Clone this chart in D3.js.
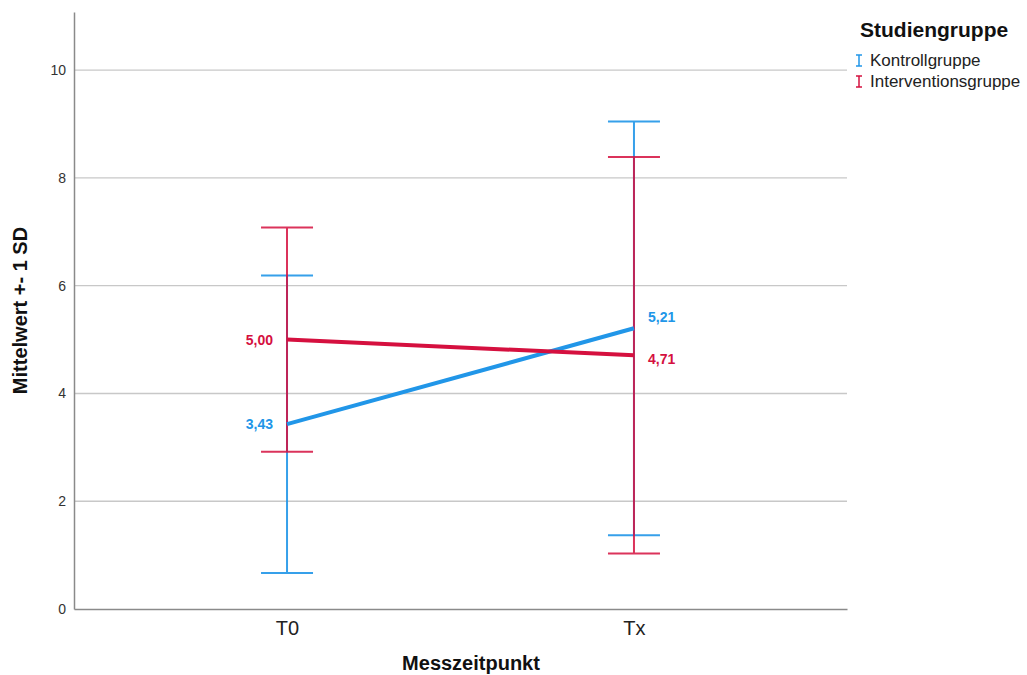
<!DOCTYPE html>
<html><head><meta charset="utf-8">
<script src="https://cdn.jsdelivr.net/npm/d3@7"></script>
<style>body{margin:0;background:#fff;font-family:"Liberation Sans",Arial,sans-serif;}</style>
</head><body><svg id="c" width="1027" height="675"></svg>
<script>
const timepoints = ["T0", "Tx"];
const groups = ["Kontrollgruppe", "Interventionsgruppe"];
const kontrollMean = [3.43, 5.21];
const kontrollSD = [2.76, 3.84];
const interventionMean = [5.00, 4.71];
const interventionSD = [2.08, 3.68];
const yTicks = [0, 2, 4, 6, 8, 10];
const colors = ["#2196e8", "#d5103f"];

const series = [
  {name: groups[0], mean: kontrollMean, sd: kontrollSD, color: colors[0]},
  {name: groups[1], mean: interventionMean, sd: interventionSD, color: colors[1]}
];

const svg = d3.select("#c");
const L = 74, R = 847, T = 12, B = 609;
const x = d3.scalePoint().domain(timepoints).range([L, R]).padding(0.614);
const y = d3.scaleLinear().domain([0, 11.08]).range([B, T]);

// gridlines
svg.append("g").selectAll("line").data(yTicks.filter(d => d > 0)).join("line")
  .attr("x1", L).attr("x2", R).attr("y1", d => y(d)).attr("y2", d => y(d))
  .attr("stroke", "#c8c8c8").attr("stroke-width", 1.3);

// axes
const yAxis = d3.axisLeft(y).tickValues(yTicks).tickSize(0).tickPadding(8).tickFormat(d3.format("d"));
const gy = svg.append("g").attr("transform", `translate(${L},0)`).call(yAxis);
gy.select(".domain").attr("stroke", "#8a8a8a").attr("stroke-width", 1.5);
gy.selectAll("text").attr("font-size", 14).attr("fill", "#333").attr("font-family", "Liberation Sans, Arial, sans-serif");

const xAxis = d3.axisBottom(x).tickSize(0).tickPadding(12);
const gx = svg.append("g").attr("transform", `translate(0,${B})`).call(xAxis);
gx.select(".domain").attr("stroke", "#8a8a8a").attr("stroke-width", 1.5);
gx.selectAll("text").attr("font-size", 20).attr("fill", "#222").attr("font-family", "Liberation Sans, Arial, sans-serif");

// error bars
series.forEach((s, si) => {
  const g = svg.append("g").attr("stroke", s.color).attr("stroke-width", 2).attr("opacity", si === 1 ? 0.85 : 0.9);
  timepoints.forEach((t, i) => {
    const lo = s.mean[i] - s.sd[i], hi = s.mean[i] + s.sd[i];
    g.append("line").attr("x1", x(t)).attr("x2", x(t)).attr("y1", y(lo)).attr("y2", y(hi));
    [lo, hi].forEach(v => g.append("line").attr("x1", x(t) - 26).attr("x2", x(t) + 26).attr("y1", y(v)).attr("y2", y(v)));
  });
});

// mean lines
const line = d3.line().x((d, i) => x(timepoints[i])).y(d => y(d));
series.forEach(s => {
  svg.append("path").datum(s.mean).attr("d", line).attr("fill", "none")
    .attr("stroke", s.color).attr("stroke-width", 4);
});

// value labels
const fmt = v => d3.format(".2f")(v).replace(".", ",");
series.forEach((s, si) => {
  svg.append("text").attr("x", x(timepoints[0]) - 14).attr("y", y(s.mean[0]) + 5)
    .attr("text-anchor", "end").attr("font-size", 14).attr("font-weight", "bold")
    .attr("fill", s.color).text(fmt(s.mean[0]));
  const upper = s.mean[1] >= d3.max(series, ss => ss.mean[1]);
  svg.append("text").attr("x", x(timepoints[1]) + 14).attr("y", y(s.mean[1]) + (upper ? -6 : 9))
    .attr("text-anchor", "start").attr("font-size", 14).attr("font-weight", "bold")
    .attr("fill", s.color).text(fmt(s.mean[1]));
});

// axis titles
svg.append("text").attr("x", 471).attr("y", 670).attr("text-anchor", "middle")
  .attr("font-size", 20).attr("font-weight", "bold").attr("fill", "#111").text("Messzeitpunkt");
svg.append("text").attr("transform", `translate(27,${(T + B) / 2}) rotate(-90)`).attr("text-anchor", "middle")
  .attr("font-size", 20).attr("font-weight", "bold").attr("fill", "#111").text("Mittelwert +- 1 SD");

// legend
const lg = svg.append("g");
lg.append("text").attr("x", 860).attr("y", 37).attr("font-size", 21).attr("font-weight", "bold").attr("fill", "#111").text("Studiengruppe");
series.forEach((s, i) => {
  const yy = 60 + i * 21;
  const sym = lg.append("g").attr("stroke", s.color).attr("stroke-width", 1.5);
  sym.append("line").attr("x1", 859).attr("x2", 859).attr("y1", yy - 5).attr("y2", yy + 6);
  sym.append("line").attr("x1", 856).attr("x2", 862).attr("y1", yy - 5).attr("y2", yy - 5);
  sym.append("line").attr("x1", 856).attr("x2", 862).attr("y1", yy + 6).attr("y2", yy + 6);
  lg.append("text").attr("x", 870).attr("y", yy + 6).attr("font-size", 17).attr("fill", "#222").text(s.name);
});
</script></body></html>
